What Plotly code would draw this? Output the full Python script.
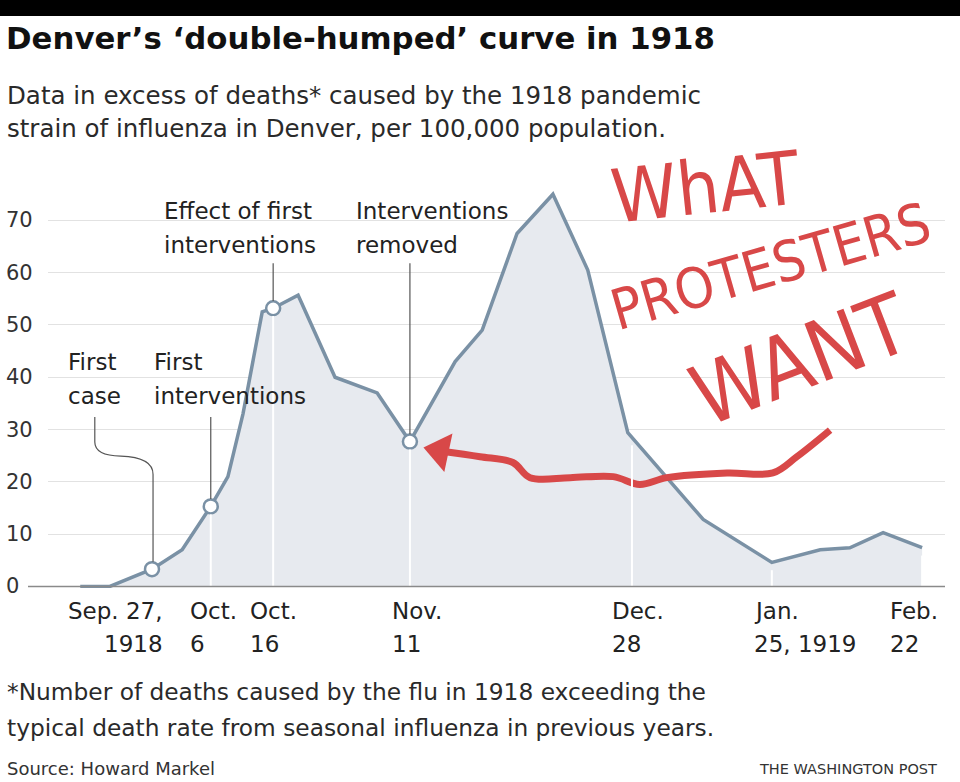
import plotly.graph_objects as go
import numpy as np

# ---------------- data ----------------
# x position in days relative to Sep. 27, 1918 (as drawn on the chart)
day_pos = [-13.8, -8.1, 0, 5.8, 11.3, 14.6, 17.5, 21.2, 23.3, 28.1, 35.2, 43.3,
           49.6, 58.3, 63.5, 70.2, 77.1, 83.8, 91.5, 106.0, 119.2, 128.5, 134.2,
           140.6, 148.1]
excess = [0, 0, 3.3, 7.0, 15.3, 21.0, 33.0, 52.5, 53.2, 55.7, 40.0, 37.0,
          27.7, 43.0, 49.0, 67.5, 75.0, 60.5, 29.4, 12.8, 4.6, 7.0, 7.4,
          10.3, 7.4]
event_idx = [2, 4, 8, 12]

tick_pos = [0, 11.3, 23.3, 49.6, 92.3, 119.2, 148.1]
tick_line1 = ["Sep. 27,", "Oct.", "Oct.", "Nov.", "Dec.", "Jan.", "Feb."]
tick_line2 = ["1918", "6", "16", "11", "28", "25, 1919", "22"]
y_ticks = [0, 10, 20, 30, 40, 50, 60, 70]

# hand-drawn red arrow
protest_x = [55.4, 63.1, 69.4, 72.7, 80.4, 88.7, 93.8, 99.0, 110.6, 119.4, 124.0, 130.4]
protest_y = [25.9, 24.8, 23.7, 20.8, 20.8, 21.0, 19.5, 20.8, 21.7, 21.7, 24.8, 29.9]

# ---------------- layout geometry ----------------
W, H = 960, 782
L, R, T, B = 48, 15, 188.5, 193.5
XR = [-20, 152.5]
YR = [-0.3, 76]
PW, PH = W - L - R, H - T - B


def px(x):
    return (x - L) / PW


def py(y):
    return (H - B - y) / PH


LINE_C = "#7a91a5"
FILL_C = "#e7eaef"
TXT = "#222222"
RED = "#d84848"
FONT = "DejaVu Sans, Verdana, sans-serif"
HAND = "Liberation Sans Narrow, DejaVu Sans Condensed, Arial Narrow, DejaVu Sans, sans-serif"

fig = go.Figure()

fig.add_trace(go.Scatter(
    x=day_pos, y=excess, mode="lines", fill="tozeroy", fillcolor=FILL_C,
    line=dict(color=LINE_C, width=3.5), hoverinfo="skip", showlegend=False))

shapes = []
# white guide lines inside the fill
for tp in tick_pos[1:]:
    shapes.append(dict(type="line", xref="x", yref="y", x0=tp, x1=tp, y0=0,
                       y1=float(np.interp(tp, day_pos, excess)) - 1.5,
                       line=dict(color="white", width=2), layer="above"))

# leader lines for annotations
lead_top = 61.8
for i, top in zip(event_idx[1:], [32.4, lead_top, lead_top]):
    shapes.append(dict(type="line", xref="x", yref="y", x0=day_pos[i], x1=day_pos[i],
                       y0=excess[i] + 1.4, y1=top,
                       line=dict(color="#555555", width=1.2), layer="above"))
shapes.append(dict(type="path", xref="x", yref="y",
                   path="M -11 32.4 L -11 27.6 Q -11 25.0 -6 24.9 Q 0.2 24.7 0.2 21.4 L 0.2 4.7",
                   line=dict(color="#555555", width=1.2), layer="above"))
# zero baseline
shapes.append(dict(type="line", xref="paper", yref="y", x0=px(28), x1=1, y0=0, y1=0,
                   line=dict(color="#8a8a8a", width=1.6), layer="above"))
# top black bar
shapes.append(dict(type="rect", xref="paper", yref="paper", x0=px(-5), x1=px(965),
                   y0=py(15), y1=py(-5), fillcolor="black", line=dict(width=0)))

fig.add_trace(go.Scatter(
    x=[day_pos[i] for i in event_idx], y=[excess[i] for i in event_idx],
    mode="markers", marker=dict(size=14, color="white", line=dict(color=LINE_C, width=2.5)),
    hoverinfo="skip", showlegend=False))

# red hand-drawn arrow
fig.add_trace(go.Scatter(
    x=protest_x, y=protest_y, mode="lines", line=dict(color=RED, width=7, shape="spline"),
    hoverinfo="skip", showlegend=False))
fig.add_trace(go.Scatter(
    x=[protest_x[0]], y=[protest_y[0]], mode="markers",
    marker=dict(symbol="triangle-left", size=34, color=RED, angle=12),
    hoverinfo="skip", showlegend=False))

ann = []


def text(x, y, s, size=23, color=TXT, anchor="left", bold=False, yanchor="middle", font=FONT):
    ann.append(dict(xref="paper", yref="paper", x=px(x), y=py(y), text=("<b>%s</b>" % s) if bold else s,
                    showarrow=False, xanchor=anchor, yanchor=yanchor,
                    font=dict(family=font, size=size, color=color)))


# titles
text(4, 37, "Denver’s ‘double-humped’ curve in 1918", size=30.8, bold=True, color="#111111")
text(5, 95, "Data in excess of deaths* caused by the 1918 pandemic", size=24.5, color="#2a2a2a")
text(5, 128, "strain of influenza in Denver, per 100,000 population.", size=24.5, color="#2a2a2a")

# chart labels
text(162, 211, "Effect of first")
text(162, 245, "interventions")
text(354, 211, "Interventions")
text(354, 245, "removed")
text(66, 362, "First")
text(66, 396, "case")
text(152, 362, "First")
text(152, 396, "interventions")

# y tick labels
for v in y_ticks:
    ann.append(dict(xref="paper", yref="y", x=px(4), y=v, text=str(v), showarrow=False,
                    xanchor="left", yanchor="middle", font=dict(family=FONT, size=21, color="#333333")))

# x tick labels
shift = [13, -23, -25, -20, -22, -20, -34]
for k, tp in enumerate(tick_pos):
    anc = "right" if k == 0 else "left"
    for line, yy in ((tick_line1[k], 612), (tick_line2[k], 645)):
        ann.append(dict(xref="x", yref="paper", x=tp, y=py(yy), text=line, showarrow=False,
                        xanchor=anc, yanchor="middle", xshift=shift[k],
                        font=dict(family=FONT, size=23, color=TXT)))

# footnotes
text(5, 692, "*Number of deaths caused by the flu in 1918 exceeding the", size=23.3, color="#2a2a2a")
text(5, 728, "typical death rate from seasonal influenza in previous years.", size=23.3, color="#2a2a2a")
text(5, 769, "Source: Howard Markel", size=18, color="#333333")
text(757, 770, "THE WASHINGTON POST", size=14.5, color="#333333")

# hand-written red text
for s, x, y, size, ang in (("WhAT", 705, 186, 74, -6),
                           ("PROTESTERS", 770, 266, 56, -16),
                           ("WANT", 800, 360, 84, -21)):
    ann.append(dict(xref="paper", yref="paper", x=px(x), y=py(y), text=s, showarrow=False,
                    textangle=ang, xanchor="center", yanchor="middle",
                    font=dict(family=HAND, size=size, color=RED)))

fig.update_layout(
    width=W, height=H, margin=dict(l=L, r=R, t=T, b=B),
    paper_bgcolor="white", plot_bgcolor="white",
    xaxis=dict(range=XR, showgrid=False, zeroline=False, showticklabels=False, ticks=""),
    yaxis=dict(range=YR, tickvals=y_ticks[1:], showticklabels=False, gridcolor="#e2e2e2",
               gridwidth=1, zeroline=False, ticks=""),
    shapes=shapes, annotations=ann, showlegend=False)

fig.write_html("out.html")
